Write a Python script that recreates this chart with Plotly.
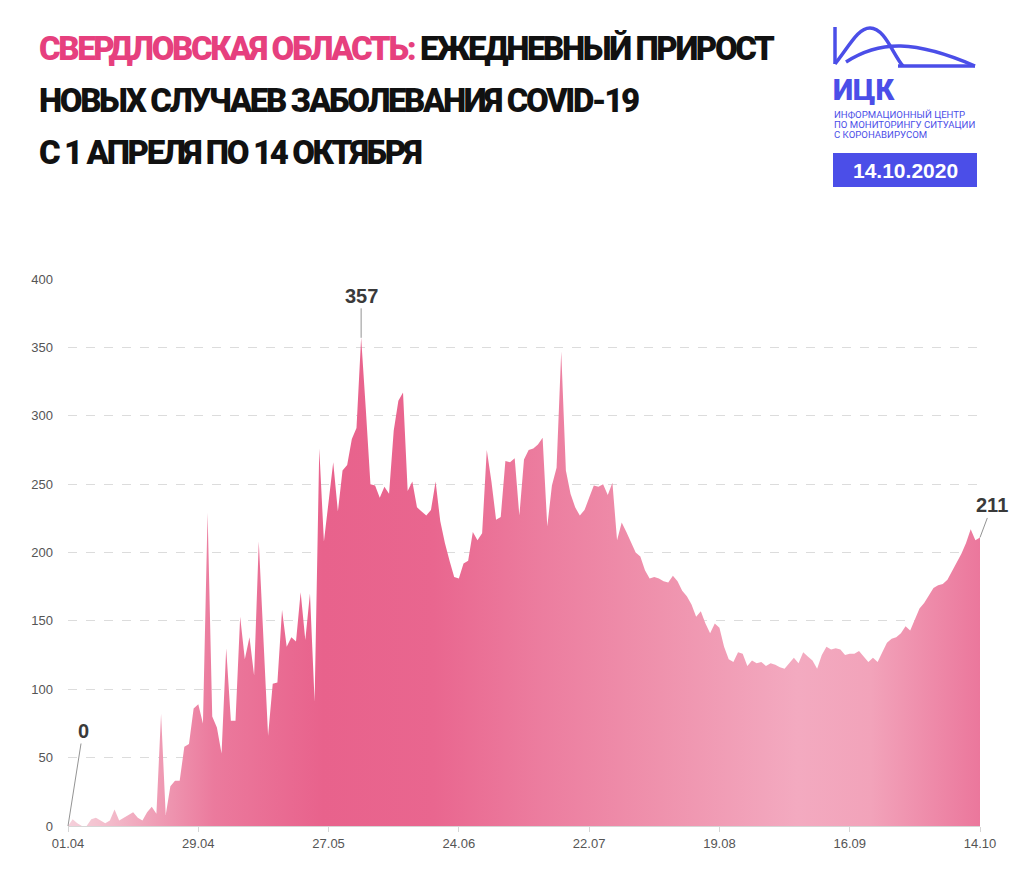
import pandas as pd
import plotly.graph_objects as go

# daily new cases, Sverdlovsk region, 01.04 - 14.10.2020
start_date = "2020-04-01"
cases = [
    0, 5, 2, 0, 0, 5, 6, 4, 2, 4,
    12, 4, 6, 8, 10, 6, 4, 10, 14, 9,
    82, 8, 29, 33, 33, 58, 60, 86, 89, 75,
    229, 80, 72, 53, 130, 77, 77, 153, 122, 138,
    110, 208, 137, 66, 104, 105, 158, 131, 138, 135,
    171, 136, 170, 91, 276, 208, 237, 266, 230, 260,
    264, 283, 291, 357, 305, 250, 249, 240, 248, 243,
    289, 311, 317, 245, 252, 233, 230, 227, 231, 252,
    223, 207, 194, 182, 181, 192, 194, 215, 209, 214,
    275, 252, 224, 226, 267, 266, 269, 227, 268, 275,
    276, 279, 284, 219, 249, 262, 347, 260, 243, 233,
    227, 231, 240, 249, 248, 250, 242, 251, 209, 222,
    215, 207, 200, 197, 187, 181, 182, 181, 179, 178,
    183, 179, 172, 168, 162, 153, 157, 148, 141, 148,
    145, 131, 122, 120, 127, 126, 117, 121, 119, 120,
    117, 119, 118, 116, 115, 119, 123, 119, 127, 124,
    121, 115, 125, 131, 129, 130, 129, 125, 126, 126,
    128, 124, 120, 123, 120, 127, 134, 137, 138, 141,
    146, 143, 151, 159, 163, 169, 174, 176, 177, 180,
    186, 192, 199, 207, 217, 209, 211,
]
tick_dates = ["2020-04-01", "2020-04-29", "2020-05-27", "2020-06-24",
              "2020-07-22", "2020-08-19", "2020-09-16", "2020-10-14"]
tick_labels = ["01.04", "29.04", "27.05", "24.06", "22.07", "19.08", "16.09", "14.10"]
y_ticks = [0, 50, 100, 150, 200, 250, 300, 350, 400]

dates = pd.date_range(start_date, periods=len(cases), freq="D")

BLUE = "#4b4ee8"
PINK = "#e6407e"
NUM_FONT = dict(family="Liberation Sans, Arial, sans-serif", size=20, color="#3a3a3a")
TITLE_FONT = "Roboto, Liberation Sans, sans-serif"

# page has an 8px body margin; plot area in page pixels
OFF = 8
L, B, W, H = 68, 826, 912, 547


def px(x):
    return (x - L) / W


def py(y):
    return (B - y) / H


fig = go.Figure()
fig.add_trace(go.Scatter(
    x=dates, y=cases, mode="lines", fill="tozeroy",
    line=dict(width=0, color="#eb7a9e"),
    fillgradient=dict(type="horizontal", colorscale=[
        [0.0, "#f5d0db"], [0.03, "#f4c4d1"], [0.10, "#ef9bb4"], [0.16, "#eb7a9d"],
        [0.28, "#e8628c"], [0.40, "#e9668f"], [0.52, "#ec7d9f"], [0.65, "#ef92ad"],
        [0.80, "#f3aac0"], [0.88, "#f2a3ba"], [1.0, "#eb779c"],
    ]),
    hoverinfo="x+y", showlegend=False,
))

# value labels
peak_i = cases.index(max(cases))
for i, ax, ay in [(0, 15, -95), (peak_i, 0, -42), (len(cases) - 1, 12, -32)]:
    fig.add_annotation(x=dates[i], y=cases[i], text="<b>%d</b>" % cases[i],
                       showarrow=True, arrowhead=0, arrowwidth=0.8, arrowcolor="#777",
                       ax=ax, ay=ay, font=NUM_FONT)

# title (squeezed a little to imitate the condensed poster face)
SQ = "letter-spacing:-2.4px"
title_lines = [
    '<span style="%s"><span style="color:%s">СВЕРДЛОВСКАЯ ОБЛАСТЬ:</span> ЕЖЕДНЕВНЫЙ ПРИРОСТ</span>'
    % (SQ, PINK),
    '<span style="%s">НОВЫХ СЛУЧАЕВ ЗАБОЛЕВАНИЯ COVID-19</span>' % SQ,
    '<span style="%s">С 1 АПРЕЛЯ ПО 14 ОКТЯБРЯ</span>' % SQ,
]
for line, yc in zip(title_lines, [48, 100, 152]):
    fig.add_annotation(xref="paper", yref="paper", x=px(37), y=py(yc), xanchor="left",
                       yanchor="middle", showarrow=False, text=line,
                       font=dict(family=TITLE_FONT, size=33, color="#111", weight=900))


def path(cmds):
    out = ""
    for c, pts in cmds:
        out += c + " " + " ".join("%.5f,%.5f" % (px(a), py(b)) for a, b in pts) + " "
    return out.strip()


# logo
logo = dict(xref="paper", yref="paper", line=dict(color=BLUE, width=3.5))
shapes = [
    dict(type="path", path=path([("M", [(835, 27)]), ("L", [(835, 64)])]), **logo),
    dict(type="path", path=path([("M", [(835, 64)]), ("C", [(850, 45), (858, 28), (870, 28)]),
                                 ("C", [(885, 28), (893, 55), (903, 66)])]), **logo),
    dict(type="path", path=path([("M", [(846, 62)]), ("C", [(880, 40), (915, 40), (975, 66)])]),
         **logo),
    dict(type="path", path=path([("M", [(898, 66)]), ("L", [(975, 66)])]), **logo),
    dict(type="rect", xref="paper", yref="paper", x0=px(833), y0=py(153),
         x1=px(977), y1=py(187), fillcolor=BLUE, line=dict(width=0)),
]
fig.update_layout(shapes=shapes)

fig.add_annotation(xref="paper", yref="paper", x=px(831), y=py(90), xanchor="left",
                   yanchor="middle", showarrow=False, text="ИЦК",
                   font=dict(family="Roboto, sans-serif", size=29, color=BLUE, weight=900))
for line, yc in zip(["ИНФОРМАЦИОННЫЙ ЦЕНТР", "ПО МОНИТОРИНГУ СИТУАЦИИ", "С КОРОНАВИРУСОМ"],
                    [114, 124.5, 135]):
    fig.add_annotation(xref="paper", yref="paper", x=px(832), y=py(yc), xanchor="left",
                       yanchor="middle", showarrow=False, text=line,
                       font=dict(family="Roboto, sans-serif", size=9.6, color=BLUE))
fig.add_annotation(xref="paper", yref="paper", x=px(905), y=py(170), xanchor="center",
                   yanchor="middle", showarrow=False, text="<b>14.10.2020</b>",
                   font=dict(family="Liberation Sans, Arial, sans-serif", size=21, color="white"))

fig.update_xaxes(
    range=[dates[0], dates[-1]], tickvals=pd.to_datetime(tick_dates), ticktext=tick_labels,
    showgrid=False, showline=True, linecolor="#d6d6d6", linewidth=1,
    ticks="outside", ticklen=5, tickcolor="#d6d6d6",
    tickfont=dict(family="Liberation Sans, Arial, sans-serif", size=13, color="#555"),
    zeroline=False, fixedrange=True,
)
fig.update_yaxes(
    range=[0, 400], tickvals=y_ticks, showgrid=True, gridcolor="#dcdcdc", griddash="dash",
    gridwidth=1, zeroline=False, ticks="", ticklabelstandoff=14,
    tickfont=dict(family="Liberation Sans, Arial, sans-serif", size=13, color="#555"),
    fixedrange=True,
)
fig.update_layout(
    width=1024 - OFF, height=877 - OFF, plot_bgcolor="white", paper_bgcolor="white",
    margin=dict(l=L - OFF, r=1024 - L - W, t=B - H - OFF, b=877 - B),
)
fig.write_html("out.html")
